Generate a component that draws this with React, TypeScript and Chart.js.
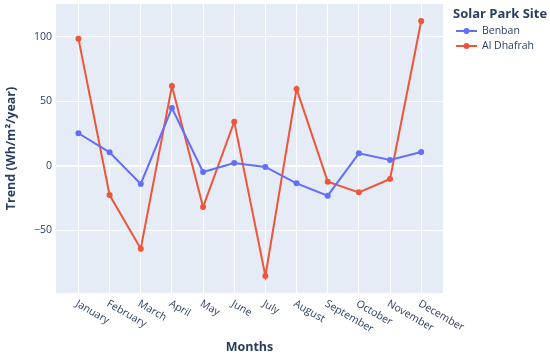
import React, { useEffect, useRef } from "react";
import { Chart, registerables } from "chart.js";

Chart.register(...registerables);

const months = [
  "January", "February", "March", "April", "May", "June",
  "July", "August", "September", "October", "November", "December",
];
const benban = [25.2, 10.4, -14.2, 44.8, -4.9, 2.1, -1.0, -13.7, -23.3, 9.6, 4.4, 10.6];
const alDhafrah = [98.7, -22.8, -64.5, 61.9, -32.1, 34.2, -85.7, 59.6, -12.4, -20.7, -10.3, 112.4];
const seriesNames = ["Benban", "Al Dhafrah"];
const seriesColors = ["#636EFA", "#EF553B"];
const legendTitle = "Solar Park Site";
const xTitle = "Months";
const yTitle = "Trend (Wh/m\u00b2/year)";
const yTickStep = 50;

const FONT = '"Open Sans", verdana, arial, sans-serif';
const TEXT = "#2a3f5f";

const decorPlugin = {
  id: "decor",
  beforeDraw(chart: any) {
    const { ctx, chartArea: a } = chart;
    ctx.save();
    ctx.fillStyle = "#E5ECF6";
    ctx.fillRect(a.left, a.top, a.right - a.left, a.bottom - a.top);
    ctx.restore();
  },
  afterDraw(chart: any) {
    const { ctx, chartArea: a } = chart;
    const xs = chart.scales.x;
    ctx.save();
    // x tick labels rotated 30deg
    ctx.fillStyle = TEXT;
    ctx.font = `10.5px ${FONT}`;
    ctx.textAlign = "left";
    ctx.textBaseline = "middle";
    months.forEach((m, i) => {
      const px = xs.getPixelForValue(i);
      ctx.save();
      ctx.translate(px - 2, a.bottom + 10);
      ctx.rotate((30 * Math.PI) / 180);
      ctx.fillText(m, 0, 0);
      ctx.restore();
    });
    // x title
    ctx.font = `bold 12.5px ${FONT}`;
    ctx.textAlign = "center";
    ctx.textBaseline = "middle";
    ctx.fillText(xTitle, (a.left + a.right) / 2, 347);
    // y title
    ctx.save();
    ctx.translate(11, (a.top + a.bottom) / 2);
    ctx.rotate(-Math.PI / 2);
    ctx.fillText(yTitle, 0, 0);
    ctx.restore();
    // legend
    ctx.textAlign = "left";
    ctx.font = `bold 13px ${FONT}`;
    ctx.fillText(legendTitle, 453, 14);
    ctx.font = `10.5px ${FONT}`;
    chart.data.datasets.forEach((ds: any, i: number) => {
      const y = 31 + i * 15;
      ctx.strokeStyle = ds.borderColor;
      ctx.lineWidth = 2;
      ctx.beginPath();
      ctx.moveTo(456, y);
      ctx.lineTo(477, y);
      ctx.stroke();
      ctx.fillStyle = ds.borderColor;
      ctx.beginPath();
      ctx.arc(466.5, y, 3, 0, Math.PI * 2);
      ctx.fill();
      ctx.fillStyle = TEXT;
      ctx.fillText(ds.label, 482, y);
    });
    ctx.restore();
  },
};

export default function App() {
  const ref = useRef<HTMLCanvasElement>(null);
  useEffect(() => {
    document.body.style.margin = "0";
    const seriesData = [benban, alDhafrah];
    const chart = new Chart(ref.current!, {
      type: "line",
      data: {
        datasets: seriesData.map((vals, s) => ({
          label: seriesNames[s],
          data: vals.map((v, i) => ({ x: i, y: v })),
          borderColor: seriesColors[s],
          backgroundColor: seriesColors[s],
          borderWidth: 2,
          pointRadius: 3,
          pointBorderWidth: 0,
          tension: 0,
        })),
      },
      options: {
        animation: false,
        responsive: false,
        layout: { padding: { left: 0, top: 4, right: 107, bottom: 0 } },
        plugins: { legend: { display: false }, tooltip: { enabled: false } },
        scales: {
          x: {
            type: "linear",
            min: -0.72,
            max: 11.7,
            afterFit: (s: any) => {
              s.height = 61;
              s.paddingLeft = 0;
              s.paddingRight = 0;
            },
            ticks: { display: false, stepSize: 1, includeBounds: false },
            grid: { color: "#ffffff", lineWidth: 1, drawTicks: false },
            border: { display: false },
          },
          y: {
            min: -98.9,
            max: 125.6,
            afterFit: (s: any) => {
              s.width = 56;
              s.paddingTop = 0;
              s.paddingBottom = 0;
            },
            ticks: {
              stepSize: yTickStep,
              includeBounds: false,
              color: TEXT,
              font: { family: FONT, size: 10.5 },
              padding: 4,
              callback: (v: any) => (v < 0 ? "\u2212" + Math.abs(v) : String(v)),
            },
            grid: {
              color: "#ffffff",
              lineWidth: (c: any) => (c.tick && c.tick.value === 0 ? 2 : 1),
              drawTicks: false,
            },
            border: { display: false },
          },
        },
      },
      plugins: [decorPlugin],
    });
    return () => chart.destroy();
  }, []);
  return (
    <div style={{ position: "absolute", left: 0, top: 0, width: 550, height: 354 }}>
      <canvas ref={ref} width={550} height={354} style={{ width: 550, height: 354 }} />
    </div>
  );
}
